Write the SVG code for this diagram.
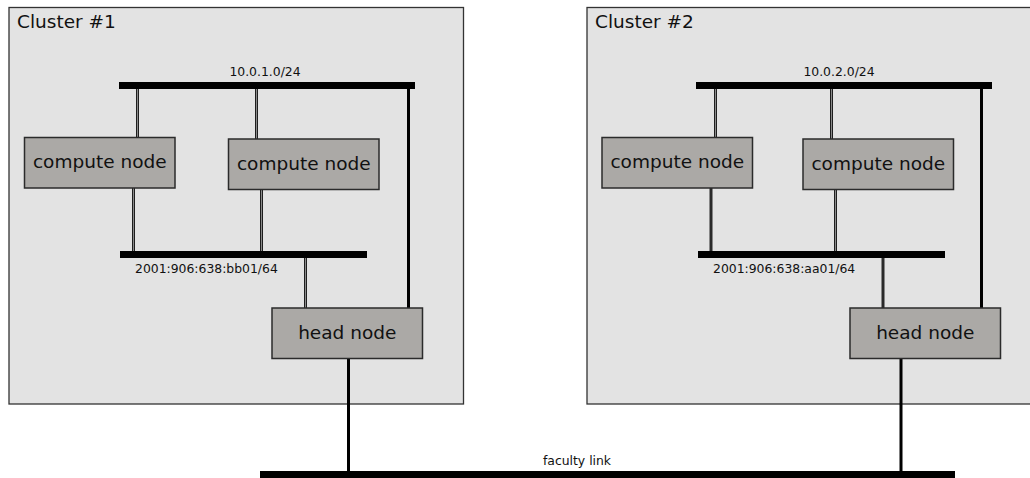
<svg xmlns="http://www.w3.org/2000/svg" width="1030" height="478" viewBox="0 0 1030 478">
  <style>
    .cluster{fill:#e3e3e3;stroke:#333;stroke-width:1.3}
    .title{font-family:"DejaVu Sans",sans-serif;font-size:18.5px;fill:#111}
    .node rect{fill:#aba9a6;stroke:#2b2b2b;stroke-width:1.5}
    .node text{font-family:"DejaVu Sans",sans-serif;font-size:18.5px;text-anchor:middle;fill:#111}
    .bus{fill:#000}
    .lbl{font-family:"DejaVu Sans",sans-serif;font-size:12.4px;fill:#111}
    .mid{text-anchor:middle}
    .wire-out{stroke:#1e1e1e;stroke-width:3;fill:none}
    .wire-in{stroke:#8a8a8a;stroke-width:1;fill:none}
    .solid{stroke:#2a2a2a;stroke-width:3;fill:none}
    .trunk{stroke:#000;stroke-width:3;fill:none}
  </style>
  <rect width="1030" height="478" fill="#fff"/>

  <!-- cluster backgrounds -->
  <g id="cluster1">
    <rect class="cluster" x="9" y="7.5" width="454.5" height="396.5"/>
    <text class="title" x="17" y="28">Cluster #1</text>
  </g>
  <g id="cluster2">
    <rect class="cluster" x="587" y="7.5" width="460" height="396.5"/>
    <text class="title" x="595" y="28">Cluster #2</text>
  </g>

  <!-- connectors: bus bars and wires -->
  <g id="connectors">
    <!-- cluster 1 -->
    <rect class="bus" x="119" y="82" width="296" height="7"/>
    <text class="lbl mid" x="265" y="76">10.0.1.0/24</text>
    <rect class="bus" x="120" y="251" width="247" height="7"/>
    <text class="lbl" x="135" y="273">2001:906:638:bb01/64</text>

    <path class="wire-out" d="M137.5 89V137M256.5 89V139M133.5 188V251M261.5 190V251M305.5 258V308"/>
    <path class="wire-in" d="M137.5 89V137M256.5 89V139M133.5 188V251M261.5 190V251M305.5 258V308"/>
    <path class="trunk" d="M408.5 89V308"/>

    <!-- cluster 2 -->
    <rect class="bus" x="696" y="82" width="296" height="7"/>
    <text class="lbl mid" x="839" y="76">10.0.2.0/24</text>
    <rect class="bus" x="698" y="251" width="247" height="7"/>
    <text class="lbl" x="713" y="273">2001:906:638:aa01/64</text>

    <path class="wire-out" d="M715.5 89V137M831.5 89V139M835.5 190V251"/>
    <path class="wire-in" d="M715.5 89V137M831.5 89V139M835.5 190V251"/>
    <path class="solid" d="M711 188V251M883 258V308"/>
    <path class="trunk" d="M981.5 89V308"/>

    <!-- faculty link -->
    <path class="trunk" d="M348.5 359V472M901 359V472"/>
    <rect class="bus" x="260" y="471" width="695" height="8"/>
    <text class="lbl mid" x="577" y="465">faculty link</text>
  </g>

  <!-- cluster 1 nodes -->
  <g id="c1-compute1" class="node">
    <rect x="24.5" y="137.5" width="150.5" height="50.5"/>
    <text x="99.75" y="168">compute node</text>
  </g>
  <g id="c1-compute2" class="node">
    <rect x="228.5" y="139" width="150.5" height="50.5"/>
    <text x="303.75" y="169.5">compute node</text>
  </g>
  <g id="c1-head" class="node">
    <rect x="272" y="308" width="150.5" height="50.5"/>
    <text x="347.25" y="339">head node</text>
  </g>

  <!-- cluster 2 nodes -->
  <g id="c2-compute1" class="node">
    <rect x="602" y="137.5" width="150.5" height="50.5"/>
    <text x="677.25" y="168">compute node</text>
  </g>
  <g id="c2-compute2" class="node">
    <rect x="803" y="139" width="150.5" height="50.5"/>
    <text x="878.25" y="169.5">compute node</text>
  </g>
  <g id="c2-head" class="node">
    <rect x="850" y="308" width="150.5" height="50.5"/>
    <text x="925.25" y="339">head node</text>
  </g>
</svg>
